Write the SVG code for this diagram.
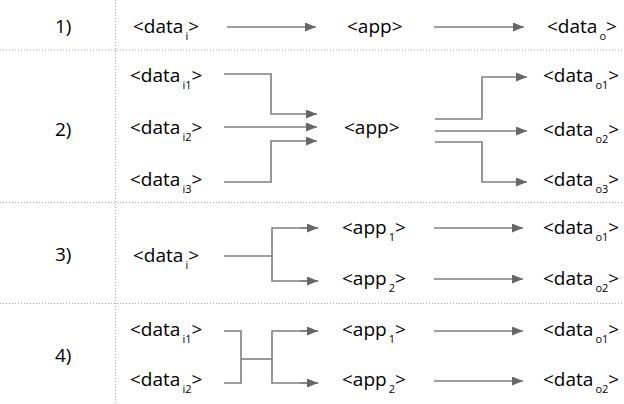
<svg xmlns="http://www.w3.org/2000/svg" width="624" height="404" viewBox="0 0 624 404">
<defs>
<marker id="ah" markerUnits="userSpaceOnUse" markerWidth="12" markerHeight="10" refX="11" refY="4.5" orient="auto">
<path d="M0,0 L11,4.5 L0,9 Z" fill="#666666"/>
</marker>
<style>
text{font-family:"Open Sans","Noto Sans","DejaVu Sans",sans-serif;font-size:19px;fill:#000}
.sub{font-size:11px}
.sep{stroke:#a6a6a6;stroke-width:1;stroke-dasharray:1,2;fill:none}
.c{stroke:#7f7f7f;stroke-width:1.6;fill:none}
.a{marker-end:url(#ah)}
</style>
</defs>
<g id="grid">
<line class="sep" x1="0" y1="50" x2="624" y2="50"/>
<line class="sep" x1="0" y1="202.5" x2="624" y2="202.5"/>
<line class="sep" x1="0" y1="303.5" x2="624" y2="303.5"/>
<line class="sep" x1="115.5" y1="0" x2="115.5" y2="404"/>
</g>
<g id="labels">
<text x="55" y="33">1)</text>
<text x="55" y="136">2)</text>
<text x="55" y="261">3)</text>
<text x="55" y="362">4)</text>
</g>
<g id="connectors">
<line class="c a" x1="227" y1="27" x2="316" y2="27"/>
<line class="c a" x1="434" y1="27" x2="524" y2="27"/>
<polyline class="c a" points="224,74 271,74 271,114 317,114"/>
<line class="c a" x1="224" y1="127" x2="317" y2="127"/>
<polyline class="c a" points="224,182 271,182 271,141 317,141"/>
<polyline class="c a" points="435,119 482,119 482,77 527,77"/>
<line class="c a" x1="435" y1="131" x2="527" y2="131"/>
<polyline class="c a" points="435,142 482,142 482,182 527,182"/>
<line class="c" x1="224" y1="256" x2="272" y2="256"/>
<polyline class="c" points="318,228 272,228 272,281 318,281"/>
<line class="c a" x1="300" y1="228" x2="318" y2="228"/>
<line class="c a" x1="300" y1="281" x2="318" y2="281"/>
<line class="c a" x1="434" y1="228" x2="523" y2="228"/>
<line class="c a" x1="434" y1="279" x2="523" y2="279"/>
<polyline class="c" points="224,331 241,331 241,383 224,383"/>
<line class="c" x1="241" y1="359" x2="272" y2="359"/>
<polyline class="c" points="318,331 272,331 272,383 318,383"/>
<line class="c a" x1="300" y1="331" x2="318" y2="331"/>
<line class="c a" x1="300" y1="383" x2="318" y2="383"/>
<line class="c a" x1="434" y1="331" x2="523" y2="331"/>
<line class="c a" x1="434" y1="381" x2="523" y2="381"/>
</g>
<g id="r1-in"><text x="133" y="33">&lt;data<tspan class="sub" dx="2" dy="7">i</tspan><tspan dy="-7">&gt;</tspan></text></g>
<g id="r1-app"><text x="347" y="33">&lt;app&gt;</text></g>
<g id="r1-out"><text x="547" y="33">&lt;data<tspan class="sub" dx="2" dy="7">o</tspan><tspan dy="-7">&gt;</tspan></text></g>
<g id="r2-in1"><text x="130" y="82">&lt;data<tspan class="sub" dx="2" dy="7">i1</tspan><tspan dy="-7">&gt;</tspan></text></g>
<g id="r2-in2"><text x="130" y="134">&lt;data<tspan class="sub" dx="2" dy="7">i2</tspan><tspan dy="-7">&gt;</tspan></text></g>
<g id="r2-in3"><text x="130" y="186">&lt;data<tspan class="sub" dx="2" dy="7">i3</tspan><tspan dy="-7">&gt;</tspan></text></g>
<g id="r2-app"><text x="344" y="134">&lt;app&gt;</text></g>
<g id="r2-out1"><text x="543" y="82">&lt;data<tspan class="sub" dx="2" dy="7">o1</tspan><tspan dy="-7">&gt;</tspan></text></g>
<g id="r2-out2"><text x="543" y="136">&lt;data<tspan class="sub" dx="2" dy="7">o2</tspan><tspan dy="-7">&gt;</tspan></text></g>
<g id="r2-out3"><text x="543" y="186">&lt;data<tspan class="sub" dx="2" dy="7">o3</tspan><tspan dy="-7">&gt;</tspan></text></g>
<g id="r3-in"><text x="133" y="262">&lt;data<tspan class="sub" dx="2" dy="7">i</tspan><tspan dy="-7">&gt;</tspan></text></g>
<g id="r3-app1"><text x="342" y="234">&lt;app<tspan class="sub" dx="2" dy="7">1</tspan><tspan dy="-7">&gt;</tspan></text></g>
<g id="r3-app2"><text x="342" y="285">&lt;app<tspan class="sub" dx="2" dy="7">2</tspan><tspan dy="-7">&gt;</tspan></text></g>
<g id="r3-out1"><text x="543" y="234">&lt;data<tspan class="sub" dx="2" dy="7">o1</tspan><tspan dy="-7">&gt;</tspan></text></g>
<g id="r3-out2"><text x="543" y="285">&lt;data<tspan class="sub" dx="2" dy="7">o2</tspan><tspan dy="-7">&gt;</tspan></text></g>
<g id="r4-in1"><text x="130" y="336">&lt;data<tspan class="sub" dx="2" dy="7">i1</tspan><tspan dy="-7">&gt;</tspan></text></g>
<g id="r4-in2"><text x="130" y="386">&lt;data<tspan class="sub" dx="2" dy="7">i2</tspan><tspan dy="-7">&gt;</tspan></text></g>
<g id="r4-app1"><text x="342" y="336">&lt;app<tspan class="sub" dx="2" dy="7">1</tspan><tspan dy="-7">&gt;</tspan></text></g>
<g id="r4-app2"><text x="342" y="386">&lt;app<tspan class="sub" dx="2" dy="7">2</tspan><tspan dy="-7">&gt;</tspan></text></g>
<g id="r4-out1"><text x="543" y="336">&lt;data<tspan class="sub" dx="2" dy="7">o1</tspan><tspan dy="-7">&gt;</tspan></text></g>
<g id="r4-out2"><text x="543" y="386">&lt;data<tspan class="sub" dx="2" dy="7">o2</tspan><tspan dy="-7">&gt;</tspan></text></g>
</svg>
